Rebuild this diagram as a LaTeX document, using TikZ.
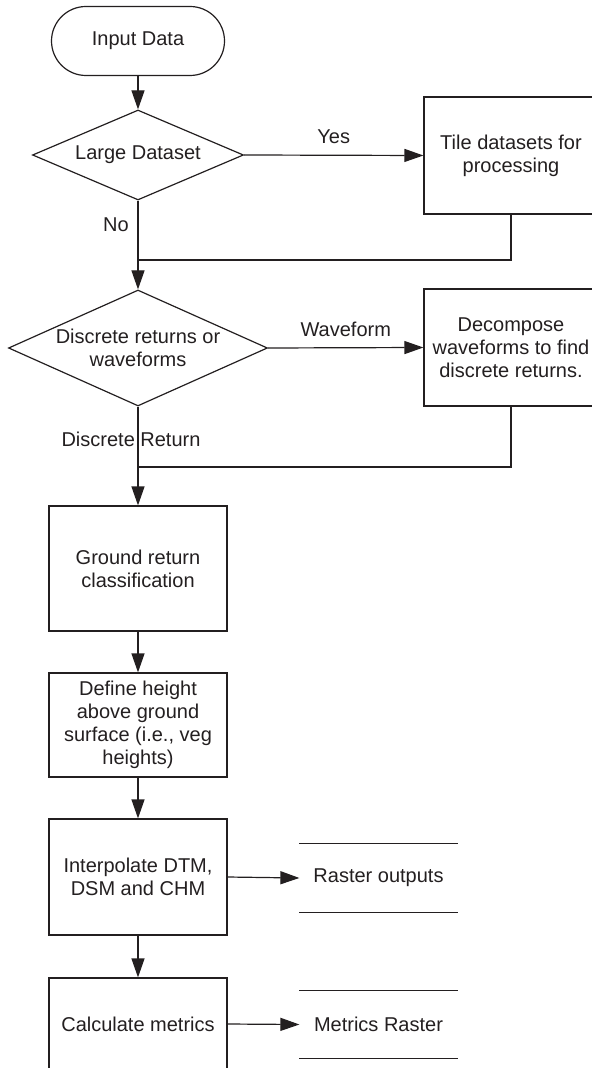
\documentclass[tikz,border=0pt]{standalone}
\usepackage{fontspec}
\setmainfont{Liberation Sans}
\usetikzlibrary{shapes.geometric,arrows.meta}
\definecolor{ink}{HTML}{231F20}
\tikzset{
	flowbox/.style = {draw = ink, rectangle, align = center, inner sep = 2pt, minimum width = 89pt},
	decision/.style = {draw = ink, diamond, align = center, inner sep = 0pt},
	storebox/.style = {inner sep = 0pt, minimum width = 78.5pt},
	flowarrow/.style = {-{Triangle[length = 9.5pt, width = 6.5pt]}},
}
\begin{document}
\begin{tikzpicture}[x = 0.5pt, y = -0.5pt, line width = 0.6pt, draw = ink, text = ink,
		font = \fontsize{10}{11.5}\selectfont]
		\useasboundingbox (0,0) rectangle (591,1068);
		%
		\node[draw = ink, rounded corners = 17.25pt, minimum width = 86.5pt, minimum height = 34.5pt] (input) at (138,41) {Input Data};
		\node[decision, aspect = 2.3, minimum width = 105.5pt, minimum height = 45pt] (large) at (138,155) {Large Dataset};
		\node[flowbox, minimum width = 87pt, minimum height = 58.5pt] (tile) at (511,155.5) {Tile datasets for\\processing};
		\node[decision, aspect = 2.2, minimum width = 129.5pt, minimum height = 58pt] (disc) at (138,348) {Discrete returns or\\waveforms};
		\node[flowbox, minimum width = 87pt, minimum height = 58.5pt] (decomp) at (511,347.5) {Decompose\\waveforms to find\\discrete returns.};
		%
		\node[flowbox, minimum height = 62.5pt] (ground) at (138,568.5) {Ground return\\classification};
		\node[flowbox, minimum height = 52pt] (define) at (138,725) {Define height\\above ground\\surface (i.e., veg\\heights)};
		\node[flowbox, minimum height = 58pt] (interp) at (138,877) {Interpolate DTM,\\DSM and CHM};
		\node[flowbox, minimum height = 46pt] (calc) at (138,1024) {Calculate metrics};
		%
		\node[storebox, minimum height = 34pt] (raster) at (378.5,878) {Raster outputs};
		\node[storebox, minimum height = 33.5pt] (metrics) at (378.5,1024.5) {Metrics Raster};
		\draw (raster.north west) -- (raster.north east);
		\draw (raster.south west) -- (raster.south east);
		\draw (metrics.north west) -- (metrics.north east);
		\draw (metrics.south west) -- (metrics.south east);
		%
		\coordinate (j1) at (138,260);
		\coordinate (j2) at (138,467);
		%
		\draw[flowarrow] (input) -- (large);
		\draw[flowarrow] (large.east) -- (tile.west) node[midway, above = 2pt]{Yes};
		\draw[flowarrow] (large.south) -- (disc.north) node[pos = 0.27, left = 1pt]{No};
		\draw (tile.south) |- (j1);
		\draw[flowarrow] (disc.east) -- (decomp.west) node[midway, above = 2pt]{Waveform};
		\draw[flowarrow] (disc.south) -- (ground.north) node[pos = 0.33, xshift = -3.5pt]{Discrete Return};
		\draw (decomp.south) |- (j2);
		%
		\draw[flowarrow] (ground) -- (define);
		\draw[flowarrow] (define) -- (interp);
		\draw[flowarrow] (interp) -- (calc);
		\draw[flowarrow] (interp.east) -- (raster.west);
		\draw[flowarrow] (calc.east) -- (metrics.west);
		%
	\end{tikzpicture}
\end{document}
